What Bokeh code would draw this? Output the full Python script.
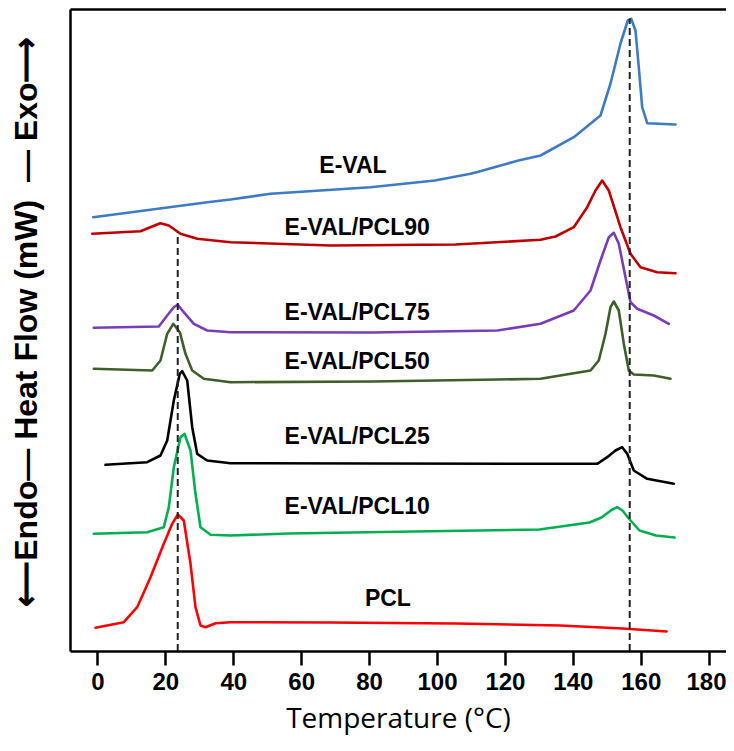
from bokeh.plotting import figure
from bokeh.models import Range1d, LinearAxis, FixedTicker
from bokeh.embed import file_html
from bokeh.resources import INLINE
from bokeh.core.properties import value

# ---- data (temperature in degC, heat flow in arbitrary offset units) ----
t_eval = [-1.40, 31.67, 39.04, 50.82, 80.26, 99.25, 109.71, 111.5, 123.85, 130.33, 140.13,
          147.99, 150.94, 153.88, 156.03, 157.03, 158.30, 159.27, 160.27, 161.75, 170.08]
hf_eval = [43.38, 44.85, 45.15, 45.72, 46.38, 47.05, 47.72, 47.88, 49.05, 49.55, 51.38,
           53.55, 56.75, 60.75, 63.05, 63.22, 62.05, 58.38, 54.38, 52.78, 52.65]

t_pcl90 = [-1.69, 12.53, 15.98, 18.42, 20.87, 24.31, 29.23, 39.04, 68.48, 105.29, 130.33,
           134.74, 140.13, 144.08, 146.52, 148.49, 150.44, 153.88, 156.83, 159.77, 164.69, 170.08]
hf_pcl90 = [41.72, 41.98, 42.45, 42.78, 42.55, 41.72, 41.22, 40.88, 40.55, 40.65, 41.12,
            41.45, 42.38, 44.38, 46.05, 47.05, 46.05, 42.38, 39.72, 38.38, 37.88, 37.78]

t_pcl75 = [-1.22, 17.92, 20.40, 22.34, 23.52, 25.28, 28.23, 32.17, 39.04, 80.85, 117.66,
           130.33, 140.13, 145.05, 147.99, 150.44, 151.91, 153.38, 155.36, 156.83, 158.80,
           163.69, 168.11]
hf_pcl75 = [32.32, 32.45, 33.55, 34.38, 34.62, 33.88, 32.72, 32.05, 31.88, 31.85, 32.05,
            32.72, 34.05, 36.05, 39.05, 41.38, 41.82, 40.72, 37.38, 34.88, 34.22,
            33.55, 32.72]

t_pcl50 = [-1.22, 15.98, 18.42, 20.40, 22.16, 24.11, 25.78, 27.76, 31.17, 39.04, 80.85,
           117.66, 130.33, 145.05, 147.49, 149.47, 150.94, 151.91, 153.38, 154.86, 156.33,
           157.80, 163.69, 168.61]
hf_pcl50 = [28.22, 28.05, 29.05, 31.72, 32.72, 31.88, 29.72, 28.05, 27.22, 26.88, 26.95,
            27.15, 27.22, 28.05, 29.05, 31.72, 34.38, 34.95, 34.05, 30.72, 28.05,
            27.65, 27.55, 27.22]

t_pcl25 = [2.23, 14.51, 18.42, 20.40, 22.34, 24.11, 24.81, 26.29, 27.76, 29.23, 32.17,
           39.04, 80.85, 130.33, 147.02, 149.97, 152.41, 154.38, 155.86, 157.80, 161.75, 169.58]
hf_pcl25 = [18.62, 18.88, 19.55, 21.05, 25.05, 27.72, 27.98, 27.05, 22.38, 19.72, 19.05,
            18.78, 18.75, 18.72, 18.72, 19.38, 20.05, 20.38, 19.72, 18.05, 17.22, 16.72]

t_pcl10 = [-1.22, 14.51, 19.39, 20.87, 22.34, 24.31, 25.49, 27.26, 28.73, 30.20, 33.15,
           39.04, 56.26, 93.13, 130.03, 144.76, 148.29, 151.23, 152.91, 154.47, 156.33,
           159.48, 164.34, 169.79]
hf_pcl10 = [11.72, 11.88, 12.38, 14.38, 18.38, 21.38, 21.72, 20.05, 15.72, 12.38, 11.62,
            11.55, 11.75, 11.95, 12.15, 12.85, 13.35, 14.10, 14.38, 14.05, 13.25,
            12.05, 11.55, 11.35]

t_pcl = [-0.72, 7.62, 11.56, 15.48, 19.39, 21.87, 23.52, 25.28, 27.26, 28.73, 30.20,
         31.67, 34.62, 39.04, 68.48, 105.29, 136.10, 154.47, 167.43]
hf_pcl = [2.32, 2.88, 4.38, 7.38, 10.72, 12.72, 13.65, 13.05, 8.72, 4.38, 2.55,
          2.38, 2.78, 2.88, 2.85, 2.75, 2.55, 2.25, 1.95]

series_names = ["E-VAL", "E-VAL/PCL90", "E-VAL/PCL75", "E-VAL/PCL50",
                "E-VAL/PCL25", "E-VAL/PCL10", "PCL"]
label_t = [75.11, 76.35, 76.35, 76.35, 76.35, 76.35, 85.39]
label_hf = [48.65, 42.45, 33.95, 29.05, 21.55, 14.50, 5.35]

x_ticks = [0, 20, 40, 60, 80, 100, 120, 140, 160, 180]
x_title = "Temperature (\u00b0C)"
y_title = "\u00a0\u00a0\u27f5Endo\u2014 Heat Flow (mW) \u00a0\u2014 Exo\u27f6"

peak_t = [23.5, 156.6]
peak_top = [41.88, 63.25]

colors = ["#3d7cc4", "#c00000", "#7a3db8", "#3e5f2a", "#000000", "#00b050", "#ff0000"]

# ---- figure ----
p = figure(width=726, height=743, x_range=Range1d(-8.08, 185.1), y_range=Range1d(-0.05, 64.15),
           output_backend="svg", toolbar_location=None,
           min_border_left=70, min_border_right=0, min_border_top=9, min_border_bottom=92,
           x_axis_label=x_title, y_axis_label=y_title)
p.outline_line_color = None
p.grid.visible = False
p.background_fill_color = "white"
p.border_fill_color = "white"

xa = p.xaxis[0]
xa.ticker = FixedTicker(ticks=x_ticks)
xa.major_tick_out = 14
xa.major_tick_in = 0
xa.minor_tick_out = 0
xa.minor_tick_in = 0
xa.axis_line_width = 2.5
xa.major_tick_line_width = 2.5
xa.major_label_text_font = "Liberation Sans"
xa.major_label_text_font_style = "bold"
xa.major_label_text_font_size = "24px"
xa.major_label_text_color = "black"
xa.major_label_standoff = 7
xa.axis_label_text_font = "Open Sans"
xa.axis_label_text_font_style = "normal"
xa.axis_label_text_font_size = "28px"
xa.axis_label_text_color = "black"
xa.axis_label_standoff = 5

ya = p.yaxis[0]
ya.ticker = FixedTicker(ticks=[])
ya.major_tick_out = 0
ya.major_tick_in = 0
ya.minor_tick_out = 0
ya.minor_tick_in = 0
ya.major_label_standoff = 0
ya.axis_line_width = 2.5
ya.axis_label_text_font = "Liberation Sans"
ya.axis_label_text_font_style = "bold"
ya.axis_label_text_font_size = "32px"
ya.axis_label_text_color = "black"
ya.axis_label_standoff = 27

top = LinearAxis(ticker=FixedTicker(ticks=[]), axis_line_width=2.5,
                 major_tick_out=0, major_tick_in=0, minor_tick_out=0, minor_tick_in=0,
                 major_label_standoff=0)
p.add_layout(top, "above")

data = [(t_eval, hf_eval), (t_pcl90, hf_pcl90), (t_pcl75, hf_pcl75), (t_pcl50, hf_pcl50),
        (t_pcl25, hf_pcl25), (t_pcl10, hf_pcl10), (t_pcl, hf_pcl)]
for (tx, hy), c in zip(data, colors):
    p.line(tx, hy, line_color=c, line_width=2.6, line_join="round", line_cap="round")

p.segment(x0=peak_t, y0=[0, 0], x1=peak_t, y1=peak_top,
          line_color="#222222", line_width=2, line_dash="7 4")

p.text(x=label_t, y=label_hf, text=series_names, text_font=value("Liberation Sans"),
       text_font_style="bold", text_font_size="23px", text_align="center",
       text_baseline="middle", text_color="black")

open("out.html", "w").write(file_html(p, INLINE))
